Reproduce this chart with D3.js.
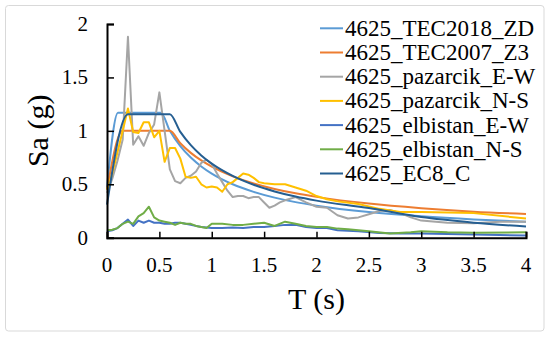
<!DOCTYPE html>
<html>
<head>
<meta charset="utf-8">
<script src="https://cdn.jsdelivr.net/npm/d3@7"></script>
<style>
  body { margin: 0; background: #fff; }
  svg { display: block; }
</style>
</head>
<body>
<div class="chart"></div>
<script>
// series names (legend order = drawing order)
var seriesNames = ["4625_TEC2018_ZD", "4625_TEC2007_Z3", "4625_pazarcik_E-W", "4625_pazarcik_N-S",
                   "4625_elbistan_E-W", "4625_elbistan_N-S", "4625_EC8_C"];
var seriesColors = ["#5B9BD5", "#ED7D31", "#A5A5A5", "#FFC000", "#4472C4", "#70AD47", "#255E91"];

// design spectra
var tec2018T  = [0, 0.105, 0.515, 0.6, 0.7, 0.8, 0.9, 1.0, 1.2, 1.4, 1.6, 1.8, 2.0, 2.5, 3.0, 3.5, 4.0];
var tec2018Sa = [0.47, 1.17, 1.17, 1.0, 0.857, 0.75, 0.667, 0.6, 0.5, 0.429, 0.375, 0.333, 0.3, 0.24, 0.2, 0.171, 0.15];

var tec2007T  = [0, 0.15, 0.6, 0.7, 0.8, 0.9, 1.0, 1.2, 1.4, 1.6, 1.8, 2.0, 2.5, 3.0, 3.5, 4.0];
var tec2007Sa = [0.45, 1.0, 1.0, 0.884, 0.794, 0.723, 0.665, 0.574, 0.508, 0.456, 0.415, 0.382, 0.319, 0.276, 0.244, 0.222];

var ec8T  = [0, 0.2, 0.6, 0.7, 0.8, 0.9, 1.0, 1.2, 1.4, 1.6, 1.8, 2.0, 2.5, 3.0, 3.5, 4.0];
var ec8Sa = [0.31, 1.155, 1.155, 0.99, 0.866, 0.77, 0.693, 0.578, 0.495, 0.433, 0.385, 0.347, 0.277, 0.193, 0.141, 0.105];

// recorded spectra
var pazEWT  = [0, 0.05, 0.1, 0.15, 0.2, 0.25, 0.3, 0.35, 0.4, 0.45, 0.5, 0.55, 0.6, 0.65, 0.7, 0.75, 0.8, 0.85, 0.9, 0.95,
               1.0, 1.05, 1.1, 1.15, 1.2, 1.25, 1.3, 1.35, 1.4, 1.45, 1.5, 1.55, 1.6, 1.65, 1.7, 1.8, 1.9, 2.0, 2.1, 2.2,
               2.3, 2.4, 2.5, 2.6, 2.7, 2.8, 2.9, 3.0, 3.25, 3.5, 3.75, 4.0];
var pazEWSa = [0.42, 0.55, 0.72, 0.92, 1.88, 0.87, 0.95, 0.86, 0.98, 1.06, 1.36, 1.0, 0.64, 0.53, 0.51, 0.56, 0.58, 0.62, 0.70, 0.73,
               0.69, 0.60, 0.52, 0.44, 0.38, 0.39, 0.39, 0.37, 0.38, 0.38, 0.33, 0.28, 0.30, 0.33, 0.35, 0.38, 0.33, 0.29, 0.28, 0.21,
               0.18, 0.19, 0.22, 0.25, 0.26, 0.23, 0.19, 0.16, 0.14, 0.135, 0.15, 0.15];

var pazNST  = [0, 0.05, 0.1, 0.15, 0.2, 0.25, 0.3, 0.35, 0.4, 0.45, 0.5, 0.55, 0.6, 0.65, 0.7, 0.75, 0.8, 0.85, 0.9, 0.95,
               1.0, 1.05, 1.1, 1.15, 1.2, 1.25, 1.3, 1.35, 1.4, 1.45, 1.5, 1.6, 1.7, 1.8, 1.9, 2.0, 2.1, 2.2, 2.4, 2.6,
               2.8, 3.0, 3.5, 4.0];
var pazNSSa = [0.45, 0.6, 0.8, 1.0, 1.21, 0.99, 0.98, 1.08, 1.08, 0.94, 1.0, 0.71, 0.84, 0.84, 0.74, 0.57, 0.56, 0.57, 0.50, 0.47,
               0.48, 0.47, 0.43, 0.50, 0.52, 0.56, 0.60, 0.59, 0.56, 0.52, 0.51, 0.50, 0.50, 0.47, 0.44, 0.39, 0.36, 0.34, 0.315, 0.27,
               0.24, 0.24, 0.23, 0.18];

var elbEWT  = [0, 0.05, 0.1, 0.15, 0.2, 0.25, 0.3, 0.35, 0.4, 0.45, 0.5, 0.55, 0.6, 0.65, 0.7, 0.75, 0.8, 0.9, 1.0, 1.1,
               1.2, 1.3, 1.4, 1.5, 1.6, 1.7, 1.8, 1.9, 2.0, 2.1, 2.2, 2.4, 2.6, 2.8, 3.0, 3.25, 3.5, 3.75, 4.0];
var elbEWSa = [0.06, 0.07, 0.09, 0.13, 0.17, 0.11, 0.16, 0.14, 0.16, 0.14, 0.14, 0.13, 0.13, 0.14, 0.14, 0.13, 0.12, 0.10, 0.09, 0.09,
               0.095, 0.09, 0.10, 0.10, 0.11, 0.12, 0.12, 0.10, 0.09, 0.09, 0.07, 0.06, 0.045, 0.04, 0.04, 0.035, 0.03, 0.025, 0.02];

var elbNST  = [0, 0.05, 0.1, 0.15, 0.2, 0.25, 0.3, 0.35, 0.4, 0.45, 0.5, 0.55, 0.6, 0.65, 0.7, 0.75, 0.8, 0.85, 0.9, 0.95,
               1.0, 1.1, 1.2, 1.3, 1.4, 1.5, 1.6, 1.7, 1.8, 1.9, 2.0, 2.1, 2.2, 2.3, 2.5, 2.7, 2.9, 3.0, 3.25, 3.5, 4.0];
var elbNSSa = [0.07, 0.075, 0.09, 0.13, 0.15, 0.13, 0.20, 0.23, 0.29, 0.19, 0.16, 0.15, 0.14, 0.12, 0.14, 0.13, 0.13, 0.11, 0.10, 0.09,
               0.13, 0.13, 0.12, 0.12, 0.13, 0.14, 0.11, 0.15, 0.13, 0.11, 0.10, 0.10, 0.085, 0.08, 0.06, 0.04, 0.05, 0.06, 0.05, 0.047, 0.05];

var xTicks = [0, 0.5, 1, 1.5, 2, 2.5, 3, 3.5, 4];
var yTicks = [0, 0.5, 1, 1.5, 2];

var seriesT  = [tec2018T, tec2007T, pazEWT, pazNST, elbEWT, elbNST, ec8T];
var seriesSa = [tec2018Sa, tec2007Sa, pazEWSa, pazNSSa, elbEWSa, elbNSSa, ec8Sa];
var smoothSeries = [true, true, false, false, false, false, true];

var W = 550, H = 337;
var plotL = 107, plotR = 526, plotT = 24, plotB = 237.7;
var serif = "'Liberation Serif', 'Times New Roman', serif";

var x = d3.scaleLinear().domain([0, 4]).range([plotL, plotR]);
var y = d3.scaleLinear().domain([0, 2]).range([plotB, plotT]);

var svg = d3.select(".chart").append("svg")
            .attr("width", W)
            .attr("height", H)
            .attr("font-family", serif);

// outer frame
svg.append("rect")
   .attr("x", 5.5).attr("y", 5.5)
   .attr("width", 538.5).attr("height", 325.5)
   .attr("rx", 3)
   .attr("fill", "#fff")
   .attr("stroke", "#D9D9D9")
   .attr("stroke-width", 1);

// lines
var lineFor = function(smooth) {
  return d3.line()
    .x(function(d) { return x(d.t); })
    .y(function(d) { return y(d.sa); })
    .curve(smooth ? d3.curveMonotoneX : d3.curveLinear);
};

for (var i = 0; i < seriesNames.length; i++) {
  var pts = seriesT[i].map(function(t, j) { return {t: t, sa: seriesSa[i][j]}; });
  svg.append("path")
     .attr("d", lineFor(smoothSeries[i])(pts))
     .attr("fill", "none")
     .attr("stroke", seriesColors[i])
     .attr("stroke-width", 2)
     .attr("stroke-linejoin", "round");
}

// axes (ticks inside)
var xAxis = svg.append("g")
  .attr("transform", "translate(0," + plotB + ")")
  .call(d3.axisTop(x).tickValues(xTicks).tickSize(6).tickFormat(""));
var yAxis = svg.append("g")
  .attr("transform", "translate(" + plotL + ",0)")
  .call(d3.axisRight(y).tickValues(yTicks).tickSize(7).tickFormat(""));

[xAxis, yAxis].forEach(function(a) {
  a.select(".domain").attr("stroke", "#000").attr("stroke-width", 2);
  a.selectAll(".tick line").attr("stroke", "#000").attr("stroke-width", 1.5);
});

svg.selectAll(".x-label")
   .data(xTicks).enter().append("text")
   .attr("class", "x-label")
   .attr("x", function(d) { return x(d); })
   .attr("y", 271.5)
   .attr("text-anchor", "middle")
   .attr("font-size", 21)
   .text(function(d) { return d; });

svg.selectAll(".y-label")
   .data(yTicks).enter().append("text")
   .attr("class", "y-label")
   .attr("x", 88)
   .attr("y", function(d) { return y(d) + 7; })
   .attr("text-anchor", "end")
   .attr("font-size", 21)
   .text(function(d) { return d; });

// axis titles
svg.append("text")
   .attr("x", (plotL + plotR) / 2)
   .attr("y", 309)
   .attr("text-anchor", "middle")
   .attr("font-size", 30)
   .text("T (s)");

svg.append("text")
   .attr("transform", "translate(48," + ((plotT + plotB) / 2) + ") rotate(-90)")
   .attr("text-anchor", "middle")
   .attr("font-size", 30)
   .text("Sa (g)");

// legend
var legend = svg.append("g");
seriesNames.forEach(function(name, k) {
  var ly = 28.3 + k * 24.2;
  legend.append("line")
        .attr("x1", 320).attr("x2", 343)
        .attr("y1", ly).attr("y2", ly)
        .attr("stroke", seriesColors[k])
        .attr("stroke-width", 2);
  legend.append("text")
        .attr("x", 345)
        .attr("y", ly + 7.5)
        .attr("font-size", 23)
        .text(name);
});
</script>
</body>
</html>
